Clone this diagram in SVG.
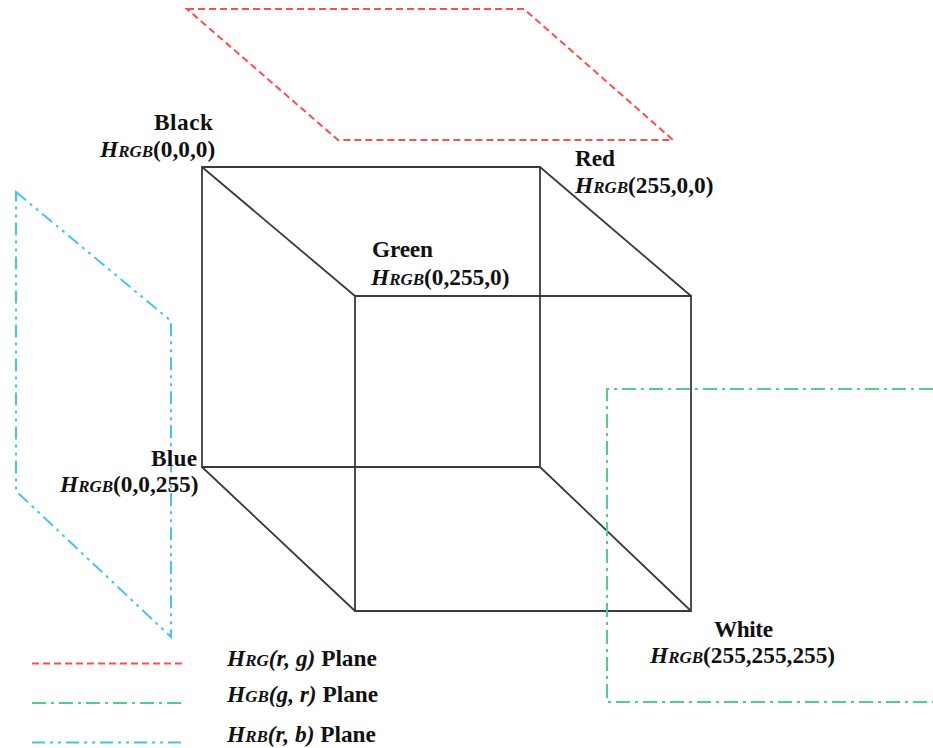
<svg xmlns="http://www.w3.org/2000/svg" width="933" height="748" viewBox="0 0 933 748">
<style>
.e{fill:none;stroke:#3a3a3a;stroke-width:1.8}
.r{fill:none;stroke:#ff4d4d;stroke-width:2;stroke-dasharray:7 4}
.g{fill:none;stroke:#4fd08a;stroke-width:2;stroke-dasharray:14 5 3 5}
.b{fill:none;stroke:#45c2f5;stroke-width:2;stroke-dasharray:13 5 3 5 3 5}
text{font-family:"Liberation Serif","Times New Roman",serif;font-weight:700;font-size:23.300px;fill:#111}
.i{font-style:italic}
.s{font-size:17px;font-style:italic}
</style>
<rect width="933" height="748" fill="#fff"/>
<g id="connectors">
<path class="e" d="M202 167H540V467H202Z"/>
<path class="e" d="M355 296H691V611H355Z"/>
<path class="e" d="M202 167L355 296M540 167L691 296M202 467L355 611M540 467L691 611"/>
<path id="plane-rg" class="r" d="M187 9H524L673 140H338Z"/>
<path id="plane-rb" class="b" d="M16 192L171 321V637L16 491Z"/>
<path id="plane-gb" class="g" d="M933 389H607V702H933"/>
<path class="r" d="M32 663.500H184"/>
<path class="g" d="M32 703H184"/>
<path class="b" d="M32 742.500H184"/>
</g>
<g id="node-black"><text x="154" y="130" textLength="59">Black</text><text x="100" y="157"><tspan class="i">H</tspan><tspan class="s">RGB</tspan>(0,0,0)</text></g>
<g id="node-red"><text x="575" y="166" textLength="40">Red</text><text x="575" y="193"><tspan class="i">H</tspan><tspan class="s">RGB</tspan>(255,0,0)</text></g>
<g id="node-green"><text x="372" y="257" textLength="61">Green</text><text x="371" y="285"><tspan class="i">H</tspan><tspan class="s">RGB</tspan>(0,255,0)</text></g>
<g id="node-blue"><text x="151" y="466" textLength="46">Blue</text><text x="60" y="492"><tspan class="i">H</tspan><tspan class="s">RGB</tspan>(0,0,255)</text></g>
<g id="node-white"><text x="714" y="637" textLength="59">White</text><text x="650" y="663"><tspan class="i">H</tspan><tspan class="s">RGB</tspan>(255,255,255)</text></g>
<g id="legend-rg"><text x="227" y="666"><tspan class="i">H</tspan><tspan class="s">RG</tspan><tspan class="i">(r, g)</tspan> Plane</text></g>
<g id="legend-gb"><text x="227" y="702"><tspan class="i">H</tspan><tspan class="s">GB</tspan><tspan class="i">(g, r)</tspan> Plane</text></g>
<g id="legend-rb"><text x="227" y="742"><tspan class="i">H</tspan><tspan class="s">RB</tspan><tspan class="i">(r, b)</tspan> Plane</text></g>
</svg>
